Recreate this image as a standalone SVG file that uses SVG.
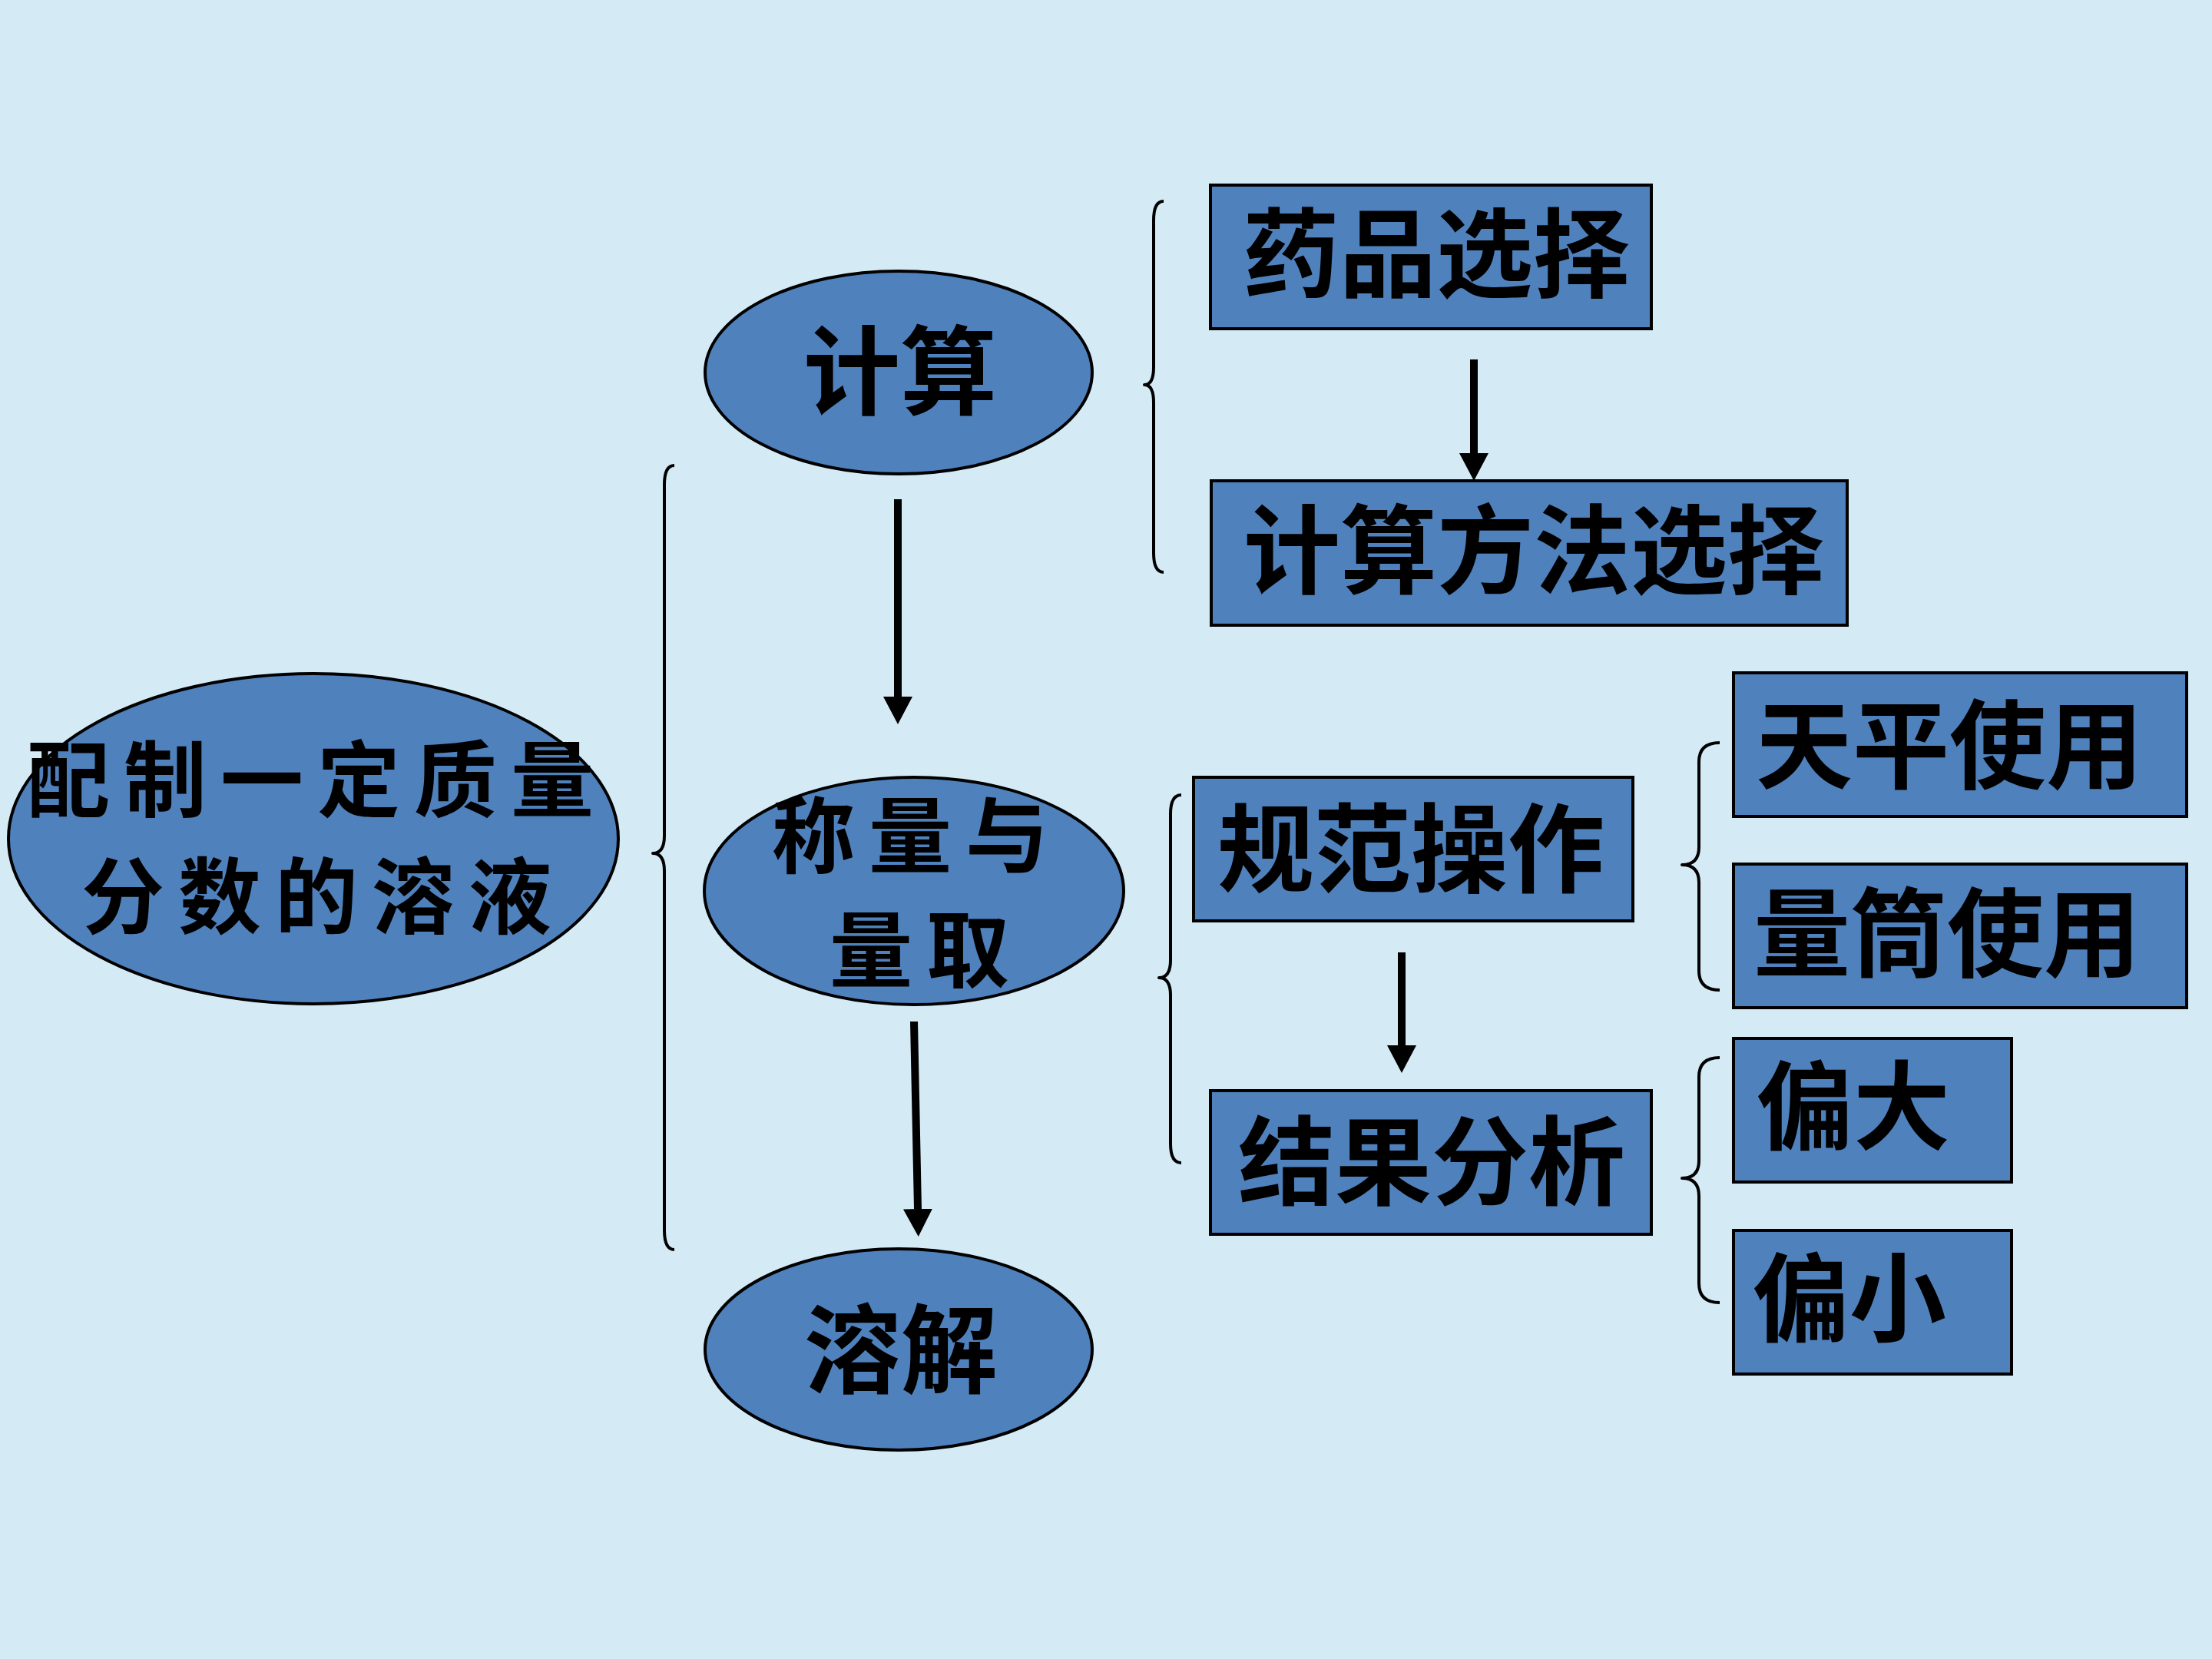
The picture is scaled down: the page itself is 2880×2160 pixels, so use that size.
<svg xmlns="http://www.w3.org/2000/svg" width="2880" height="2160" viewBox="0 0 2880 2160">
<defs>
<style>
.node{fill:#4f81bd;stroke:#000;stroke-width:4}
.lbl{font-family:"Noto Sans CJK SC","Noto Sans CJK JP",sans-serif;font-weight:700;font-size:126px;fill:#000;text-anchor:middle}
.lbl2{font-family:"Noto Sans CJK SC","Noto Sans CJK JP",sans-serif;font-weight:700;font-size:108px;fill:#000;text-anchor:middle;letter-spacing:18px}
.arrow{stroke:#000;stroke-width:10;fill:none;marker-end:url(#ah)}
.brace{stroke:#000;stroke-width:4;fill:none;stroke-linejoin:round}
</style>
<marker id="ah" markerUnits="userSpaceOnUse" markerWidth="38" markerHeight="38" refX="0" refY="19" orient="auto">
<path d="M0,0 L36,19 L0,38 z" fill="#000"/>
</marker>
</defs>
<rect x="0" y="0" width="2880" height="2160" fill="#d4ebf6"/>

<g id="connectors">
<line class="arrow" x1="1169" y1="650" x2="1169" y2="907"/>
<line class="arrow" x1="1190" y1="1330" x2="1195" y2="1574"/>
<line class="arrow" x1="1919" y1="468" x2="1919" y2="590"/>
<line class="arrow" x1="1825" y1="1240" x2="1825" y2="1361"/>
<path class="brace" d="M878,606 Q865,606 865,631 L865,1088 Q865,1111 850,1111 Q865,1111 865,1134 L865,1602 Q865,1627 878,1627"/>
<path class="brace" d="M1515,262 Q1502,262 1502,287 L1502,478 Q1502,501 1490,501 Q1502,501 1502,524 L1502,720 Q1502,745 1515,745"/>
<path class="brace" d="M1538,1035 Q1524,1035 1524,1060 L1524,1250 Q1524,1273 1509,1273 Q1524,1273 1524,1296 L1524,1489 Q1524,1514 1538,1514"/>
<path class="brace" d="M2239,967 Q2212,967 2212,992 L2212,1103 Q2212,1126 2190,1126 Q2212,1126 2212,1149 L2212,1264 Q2212,1289 2239,1289"/>
<path class="brace" d="M2239,1377 Q2212,1377 2212,1402 L2212,1511 Q2212,1534 2190,1534 Q2212,1534 2212,1557 L2212,1671 Q2212,1696 2239,1696"/>
</g>

<g id="main">
<ellipse class="node" cx="408" cy="1092" rx="397" ry="215"/>
<text class="lbl2" x="413" y="1055">配制一定质量</text>
<text class="lbl2" x="421" y="1207">分数的溶液</text>
</g>

<g id="calc">
<ellipse class="node" cx="1170" cy="485" rx="252" ry="132"/>
<text class="lbl" x="1172" y="530">计算</text>
</g>

<g id="weigh">
<ellipse class="node" cx="1190" cy="1160" rx="273" ry="148"/>
<text class="lbl2" x="1194" y="1128">称量与</text>
<text class="lbl2" x="1206" y="1277">量取</text>
</g>

<g id="dissolve">
<ellipse class="node" cx="1170" cy="1757" rx="252" ry="131"/>
<text class="lbl" x="1173" y="1804">溶解</text>
</g>

<g id="drug">
<rect class="node" x="1576" y="241" width="574" height="187"/>
<text class="lbl" x="1870" y="377">药品选择</text>
</g>

<g id="method">
<rect class="node" x="1577" y="626" width="828" height="188"/>
<text class="lbl" x="1997" y="763">计算方法选择</text>
</g>

<g id="operate">
<rect class="node" x="1554" y="1012" width="572" height="187"/>
<text class="lbl" x="1837" y="1152">规范操作</text>
</g>

<g id="result">
<rect class="node" x="1576" y="1420" width="574" height="187"/>
<text class="lbl" x="1864" y="1559">结果分析</text>
</g>

<g id="balance">
<rect class="node" x="2257" y="876" width="590" height="187"/>
<text class="lbl" x="2538" y="1017">天平使用</text>
</g>

<g id="cylinder">
<rect class="node" x="2257" y="1125" width="590" height="187"/>
<text class="lbl" x="2535" y="1262">量筒使用</text>
</g>

<g id="large">
<rect class="node" x="2257" y="1352" width="362" height="187"/>
<text class="lbl" x="2413" y="1487">偏大</text>
</g>

<g id="small">
<rect class="node" x="2257" y="1602" width="362" height="187"/>
<text class="lbl" x="2408" y="1737">偏小</text>
</g>
</svg>
